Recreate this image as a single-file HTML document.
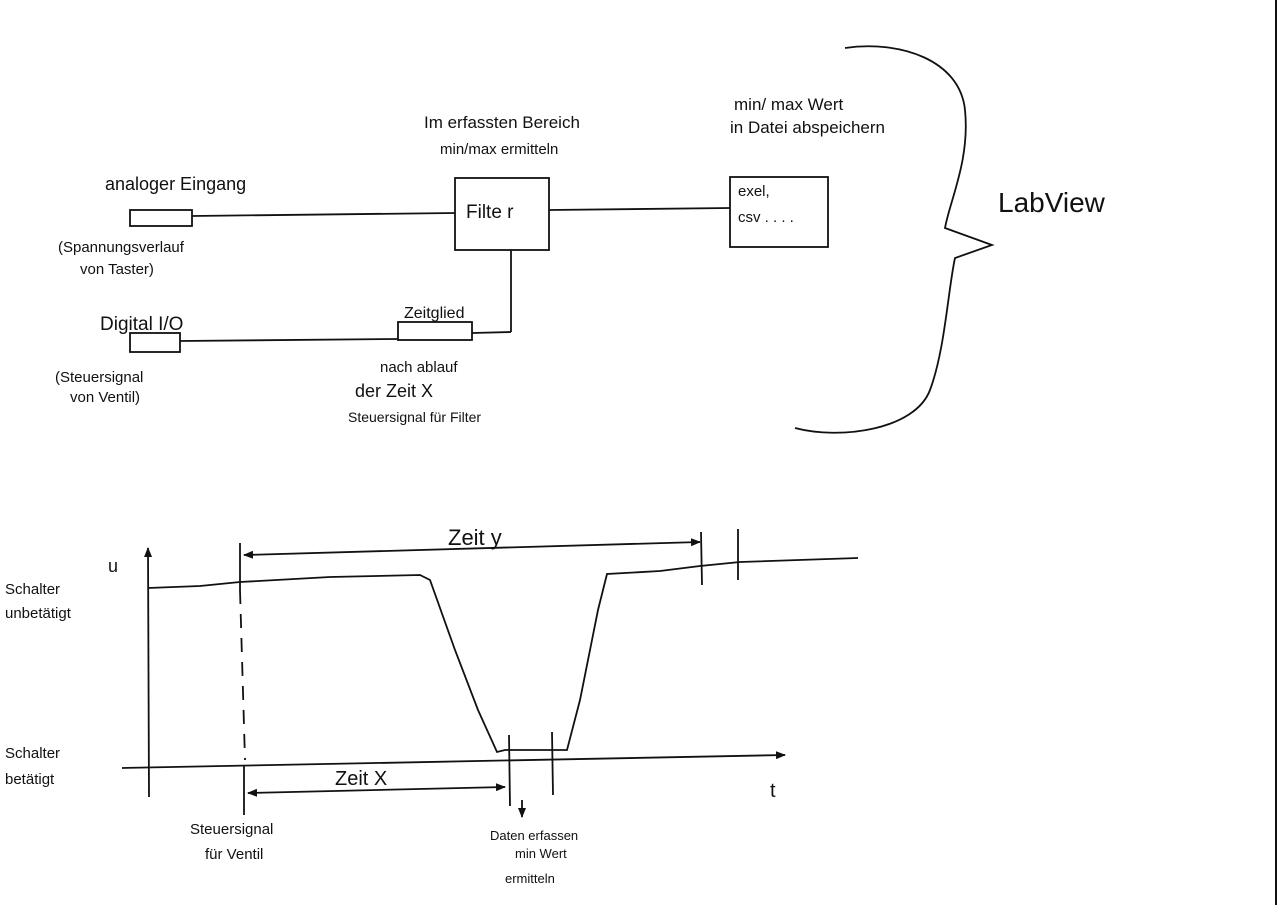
<!DOCTYPE html>
<html><head><meta charset="utf-8"><style>
html,body{margin:0;padding:0;background:#fff;}
svg{display:block;}
text{font-family:"Liberation Sans",sans-serif;fill:#111;}
</style></head><body>
<svg width="1280" height="905" viewBox="0 0 1280 905" xmlns="http://www.w3.org/2000/svg">
<defs><marker id="a" markerWidth="10" markerHeight="8" refX="9" refY="4" orient="auto" markerUnits="userSpaceOnUse"><path d="M0,0 L10,4 L0,8 z" fill="#111"/></marker>
<marker id="b" markerWidth="10" markerHeight="8" refX="1" refY="4" orient="auto" markerUnits="userSpaceOnUse"><path d="M10,0 L0,4 L10,8 z" fill="#111"/></marker></defs>
<g stroke="#111" stroke-width="1.8" fill="none">
<line x1="1276" y1="0" x2="1276" y2="905" stroke-width="2"/>
<rect x="130" y="210" width="62" height="16"/>
<line x1="192" y1="216" x2="455" y2="213"/>
<rect x="455" y="178" width="94" height="72"/>
<line x1="549" y1="210" x2="730" y2="208"/>
<rect x="730" y="177" width="98" height="70"/>
<rect x="130" y="333" width="50" height="19"/>
<line x1="180" y1="341" x2="398" y2="339"/>
<rect x="398" y="322" width="74" height="18"/>
<line x1="472" y1="333" x2="511" y2="332"/>
<line x1="511" y1="332" x2="511" y2="250"/>
<path d="M845,48 C900,40 960,60 965,110 C970,160 950,200 945,228 L992,245 L955,258 C948,290 945,350 930,390 C915,430 840,440 795,428"/>
<line x1="149" y1="797" x2="148" y2="548" marker-end="url(#a)"/>
<line x1="122" y1="768" x2="785" y2="755" marker-end="url(#a)"/>
<path d="M148,588 L200,586 L240,582 L330,577 L420,575 L430,580 L455,650 L478,710 L497,752 L505,750 L567,750 L580,700 L598,610 L607,574 L660,571 L700,566 L740,562 L858,558"/>
<line x1="244" y1="555" x2="700" y2="542" marker-start="url(#b)" marker-end="url(#a)"/>
<line x1="240" y1="543" x2="240" y2="590"/>
<line x1="240" y1="590" x2="245" y2="760" stroke-dasharray="14,10"/>
<line x1="244" y1="765" x2="244" y2="815"/>
<line x1="701" y1="532" x2="702" y2="585"/>
<line x1="738" y1="529" x2="738" y2="580"/>
<line x1="248" y1="793" x2="505" y2="787" marker-start="url(#b)" marker-end="url(#a)"/>
<line x1="509" y1="735" x2="510" y2="806"/>
<line x1="552" y1="732" x2="553" y2="795"/>
<line x1="522" y1="800" x2="522" y2="817" marker-end="url(#a)"/>
</g>
<g font-size="17">
<text x="424" y="128">Im erfassten Bereich</text>
<text x="440" y="154" font-size="15">min/max ermitteln</text>
<text x="734" y="110">min/ max Wert</text>
<text x="730" y="133">in Datei abspeichern</text>
<text x="105" y="190" font-size="18">analoger Eingang</text>
<text x="466" y="218" font-size="19">Filte r</text>
<text x="738" y="196" font-size="15">exel,</text>
<text x="738" y="222" font-size="15">csv . . . .</text>
<text x="58" y="252" font-size="15">(Spannungsverlauf</text>
<text x="80" y="274" font-size="15">von Taster)</text>
<text x="998" y="212" font-size="28">LabView</text>
<text x="100" y="330" font-size="19">Digital I/O</text>
<text x="404" y="318" font-size="16">Zeitglied</text>
<text x="55" y="382" font-size="15">(Steuersignal</text>
<text x="70" y="402" font-size="15">von Ventil)</text>
<text x="380" y="372" font-size="15">nach ablauf</text>
<text x="355" y="397" font-size="18">der Zeit X</text>
<text x="348" y="422" font-size="14">Steuersignal für Filter</text>
<text x="108" y="572" font-size="18">u</text>
<text x="448" y="545" font-size="22">Zeit y</text>
<text x="5" y="594" font-size="15">Schalter</text>
<text x="5" y="618" font-size="15">unbetätigt</text>
<text x="5" y="758" font-size="15">Schalter</text>
<text x="5" y="784" font-size="15">betätigt</text>
<text x="770" y="797" font-size="20">t</text>
<text x="335" y="785" font-size="20">Zeit X</text>
<text x="190" y="834" font-size="15">Steuersignal</text>
<text x="205" y="859" font-size="15">für Ventil</text>
<text x="490" y="840" font-size="13">Daten erfassen</text>
<text x="515" y="858" font-size="13">min Wert</text>
<text x="505" y="883" font-size="13">ermitteln</text>
</g>
</svg>
</body></html>
